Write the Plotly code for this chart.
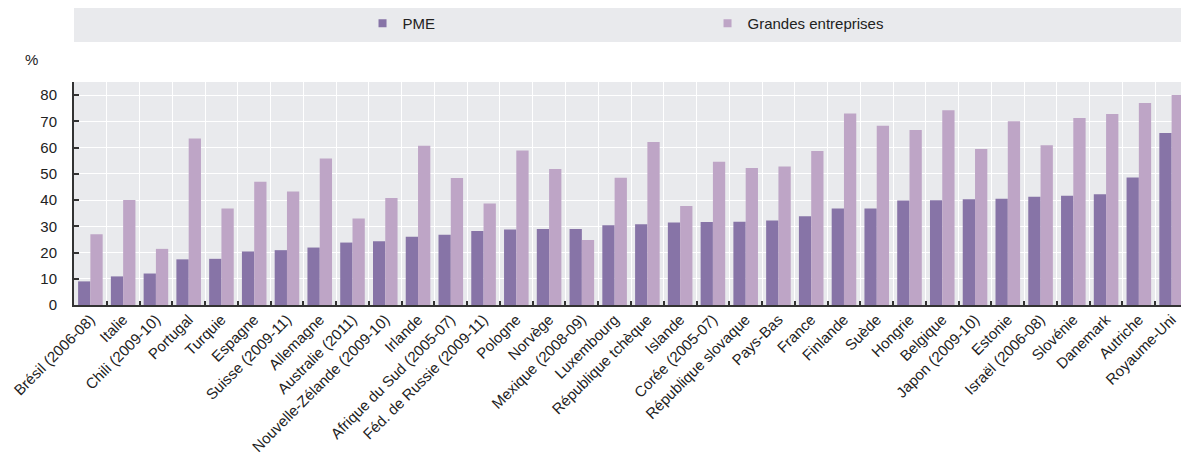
import plotly.graph_objects as go

categories = ["Brésil (2006-08)", "Italie", "Chili (2009-10)", "Portugal", "Turquie", "Espagne",
              "Suisse (2009-11)", "Allemagne", "Australie (2011)", "Nouvelle-Zélande (2009-10)",
              "Irlande", "Afrique du Sud (2005-07)", "Féd. de Russie (2009-11)", "Pologne", "Norvège",
              "Mexique (2008-09)", "Luxembourg", "République tchèque", "Islande", "Corée (2005-07)",
              "République slovaque", "Pays-Bas", "France", "Finlande", "Suède", "Hongrie", "Belgique",
              "Japon (2009-10)", "Estonie", "Israël (2006-08)", "Slovénie", "Danemark", "Autriche",
              "Royaume-Uni"]

pme = [9.0, 10.9, 12.0, 17.4, 17.6, 20.4, 20.9, 21.9, 23.8, 24.3,
       26.0, 26.8, 28.2, 28.8, 29.0, 29.0, 30.4, 30.8, 31.4, 31.6,
       31.7, 32.2, 33.8, 36.8, 36.8, 39.8, 39.9, 40.3, 40.5, 41.3,
       41.6, 42.2, 48.6, 65.6]

grandes = [27.0, 40.0, 21.4, 63.5, 36.8, 47.0, 43.3, 55.8, 33.0, 40.8,
           60.7, 48.4, 38.7, 58.9, 51.8, 24.8, 48.5, 62.1, 37.7, 54.6,
           52.2, 52.8, 58.7, 73.0, 68.3, 66.7, 74.2, 59.5, 70.0, 60.9,
           71.3, 72.8, 77.0, 80.0]

series_names = ["PME", "Grandes entreprises"]
colors = ["#8774a7", "#bea5c6"]

FONT = "Liberation Sans, Arial, sans-serif"
TXT = "#222222"

fig = go.Figure()
for name, vals, col in zip(series_names, [pme, grandes], colors):
    fig.add_trace(go.Bar(x=categories, y=vals, name=name, marker=dict(color=col, line=dict(width=0)),
                         showlegend=False))
# legend entries with small square markers
for name, col in zip(series_names, colors):
    fig.add_trace(go.Scatter(x=[None], y=[None], mode="markers", name=name,
                             marker=dict(symbol="square", size=8, color=col)))

# the page body adds an 8px offset, so the figure is sized to fit the window
fig.update_layout(
    width=1181, height=450,
    margin=dict(l=66, r=1, t=74, b=153, autoexpand=False),
    paper_bgcolor="white",
    plot_bgcolor="#e9eaed",
    barmode="group",
    bargap=0.25,
    bargroupgap=0,
    font=dict(family=FONT, size=14, color=TXT),
    legend=dict(orientation="h", x=0.259, xanchor="left", y=1.262, yanchor="middle",
                bgcolor="rgba(0,0,0,0)", font=dict(size=15, color=TXT),
                entrywidth=300, entrywidthmode="pixels", itemwidth=30),
    shapes=[dict(type="rect", xref="paper", yref="paper", x0=0.0, x1=1.0, y0=1.179, y1=1.345,
                 fillcolor="#e9eaed", line=dict(width=0), layer="below")],
    annotations=[dict(text="%", xref="paper", yref="paper", x=-0.038, y=1.099,
                      showarrow=False, font=dict(size=15, color=TXT), xanchor="center", yanchor="middle")],
)

fig.update_xaxes(type="category", tickson="boundaries", ticks="inside", ticklen=4, tickwidth=1.5,
                 tickcolor="#333333", showgrid=True, gridcolor="white", gridwidth=1,
                 showline=True, linecolor="#333333", linewidth=2, tickangle=-45, automargin=False,
                 ticklabelstandoff=-2,
                 tickfont=dict(size=15, color=TXT))
fig.update_yaxes(range=[0, 85], dtick=10, ticks="inside", ticklen=5, tickwidth=1.5, tickcolor="#333333",
                 showgrid=True, gridcolor="white", gridwidth=1, zeroline=False, automargin=False,
                 showline=True, linecolor="#333333", linewidth=2, ticklabelstandoff=12,
                 tickfont=dict(size=15, color=TXT))

fig.write_html("out.html")
